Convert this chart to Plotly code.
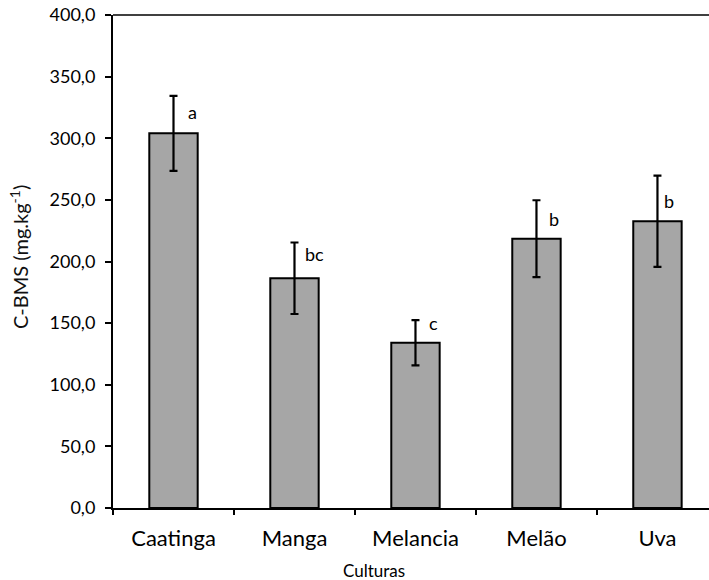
import plotly.graph_objects as go

culturas = ["Caatinga", "Manga", "Melancia", "Melão", "Uva"]
media = [304.0, 186.4, 134.1, 218.5, 232.6]
erro = [30.4, 29.0, 18.4, 31.2, 37.0]
letras = ["a", "bc", "c", "b", "b"]
letra_y = [321.5, 206.4, 150.4, 234.8, 249.1]
letra_dx = [12, 9, 12, 11, 5]
y_ticks = [0, 50, 100, 150, 200, 250, 300, 350, 400]
limites = [-0.5, 0.5, 1.5, 2.5, 3.5, 4.5]

FONT = "Lato, 'Open Sans', sans-serif"
W, H = 709, 580
L, R, T, B = 113, 0, 15, 72
XR = [-0.5, 4.426]

fig = go.Figure()
fig.add_trace(go.Bar(
    x=list(range(len(culturas))),
    y=media,
    width=0.40,
    marker=dict(color="#a6a6a6", line=dict(color="black", width=2)),
    error_y=dict(type="data", array=erro, visible=True, color="black", thickness=2.2, width=4),
    showlegend=False,
))
fig.add_trace(go.Scatter(x=[0], y=[0], xaxis="x2", mode="markers", marker=dict(opacity=0),
                         showlegend=False, hoverinfo="skip"))

for i, (t, yy, dx) in enumerate(zip(letras, letra_y, letra_dx)):
    fig.add_annotation(x=i, y=yy, text=t, showarrow=False, xanchor="left", yanchor="middle",
                       xshift=dx, font=dict(family=FONT, size=18, color="black"))

pw = W - L - R
ph = H - T - B
fig.add_annotation(xref="paper", yref="paper", x=(19 - L) / pw, y=(H - B - 257) / ph,
                   text="C-BMS (mg.kg<sup>-1</sup>)", textangle=-90, showarrow=False,
                   xanchor="center", yanchor="middle", font=dict(family=FONT, size=20, color="#111"))
fig.add_annotation(xref="paper", yref="paper", x=(374 - L) / pw, y=-(570 - (H - B)) / ph,
                   text="Culturas", showarrow=False, xanchor="center", yanchor="middle",
                   font=dict(family=FONT, size=17, color="black"))

fig.add_shape(type="line", xref="paper", yref="paper", x0=0, x1=1, y0=1, y1=1,
              line=dict(color="#404040", width=2))

fig.update_layout(
    width=W, height=H,
    margin=dict(l=L, r=R, t=T, b=B),
    plot_bgcolor="white", paper_bgcolor="white",
    separators=",.",
    font=dict(family=FONT, color="black"),
    xaxis2=dict(overlaying="x", range=XR, tickmode="array", tickvals=limites,
                ticks="outside", ticklen=6, tickwidth=2, tickcolor="black",
                showticklabels=False, showgrid=False, zeroline=False, side="bottom",
                showline=False, automargin=False),
)
fig.update_layout(xaxis=dict(
    range=XR, automargin=False,
    tickmode="array", tickvals=list(range(len(culturas))), ticktext=culturas,
    showline=True, linecolor="black", linewidth=2,
    ticks="outside", ticklen=10, tickcolor="rgba(0,0,0,0)",
    showgrid=False, zeroline=False,
    tickfont=dict(family=FONT, size=22),
))
fig.update_yaxes(
    range=[0, 400], automargin=False,
    tickmode="array", tickvals=y_ticks, tickformat=".1f",
    showline=True, linecolor="black", linewidth=2,
    ticks="outside", ticklen=6, tickwidth=2, tickcolor="black",
    ticklabelstandoff=6,
    showgrid=False, zeroline=False,
    tickfont=dict(family=FONT, size=18),
)

fig.write_html("out.html", config={"displayModeBar": False},
               post_script="document.body.style.margin='0';document.body.style.overflow='hidden';")
